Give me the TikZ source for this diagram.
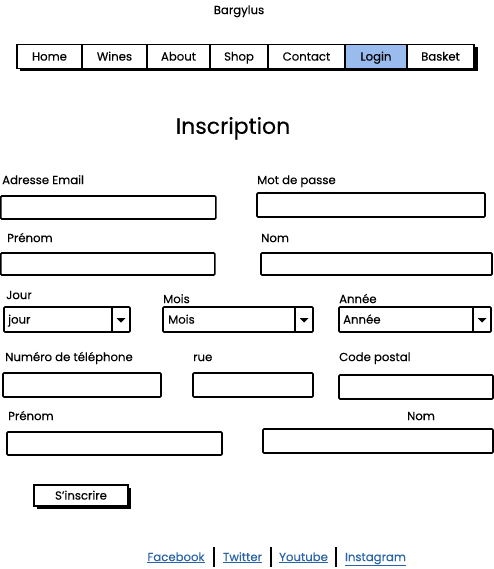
\documentclass[tikz,border=0pt]{standalone}
\usepackage{fontspec}
\setmainfont{Poppins}[FakeBold=0.3]
\usetikzlibrary{positioning,calc}
\definecolor{loginblue}{HTML}{99BBEE}
\definecolor{linkblue}{HTML}{2A64A8}
\tikzset{
	uitext/.style={font=\fontsize{11.7}{14}\selectfont, text height=8.6pt, text depth=0.4pt},
	navcell/.style={uitext, draw, line width=1.3pt, fill=white, minimum height=24, inner sep=0pt, outer sep=0pt},
	fieldlabel/.style={uitext, anchor=west, inner sep=0pt},
	fieldbox/.style={draw, line width=1.6pt, fill=white, rounded corners=1pt, anchor=north west, inner sep=0pt, outer sep=0pt},
	dropval/.style={uitext, anchor=west, inner sep=0pt},
	footlink/.style={uitext, inner sep=0pt, text=linkblue},
}
\begin{document}
\begin{tikzpicture}[
x=1pt,
y=-1pt,
]
	\useasboundingbox (0,0) rectangle (494,569);
	
	%%%%%%%%%%%%%%%%%%%%%%%%%%%%
	%Titel und Navigation
	%%%%%%%%%%%%%%%%%%%%%%%%%%%%
	
	\node [uitext, inner sep=0pt] (site) at (239, 10) {Bargylus};
	
	\fill [black] (20, 47.5) rectangle (477.5, 71.5);
	\node [navcell, minimum width=65, anchor=north west] (home) at (17, 44.5) {Home};
	\node [navcell, minimum width=65, right=0pt of home] (wines) {Wines};
	\node [navcell, minimum width=63, right=0pt of wines] (about) {About};
	\node [navcell, minimum width=58, right=0pt of about] (shop) {Shop};
	\node [navcell, minimum width=77, right=0pt of shop] (contact) {Contact};
	\node [navcell, minimum width=62, right=0pt of contact, fill=loginblue] (login) {Login};
	\node [navcell, minimum width=67, right=0pt of login] (basket) {Basket};
	
	\node [inner sep=0pt, font=\fontsize{22}{26}\selectfont, text height=15.6pt, text depth=0pt] (title) at (233, 126) {Inscription};
	
	%%%%%%%%%%%%%%%%%%%%%%%%%%%%
	%Formular
	%%%%%%%%%%%%%%%%%%%%%%%%%%%%
	
	\node [fieldlabel] (lemail) at (2, 180) {Adresse Email};
	\node [fieldbox, minimum width=215, minimum height=23] (email) at (0.8, 196) {};
	\node [fieldlabel] (lpass) at (257, 180) {Mot de passe};
	\node [fieldbox, minimum width=228, minimum height=24] (pass) at (257, 193) {};
	
	\node [fieldlabel] (lprenom) at (7, 238) {Prénom};
	\node [fieldbox, minimum width=214, minimum height=22] (prenom) at (0.8, 253) {};
	\node [fieldlabel] (lnom) at (261, 238) {Nom};
	\node [fieldbox, minimum width=231, minimum height=22] (nom) at (261, 253) {};
	
	\node [fieldlabel] (ljour) at (6, 295) {Jour};
	\node [fieldbox, minimum width=126, minimum height=25] (jour) at (4, 307) {};
	\node [dropval] at ($(jour.west)+(4,0)$) (vjour) {jour};
	\node [fieldlabel] (lmois) at (163, 299) {Mois};
	\node [fieldbox, minimum width=150, minimum height=25] (mois) at (163, 307) {};
	\node [dropval] at ($(mois.west)+(5,0)$) (vmois) {Mois};
	\node [fieldlabel] (lannee) at (339, 299) {Année};
	\node [fieldbox, minimum width=152, minimum height=25] (annee) at (339, 307) {};
	\node [dropval] at ($(annee.west)+(4,0)$) (vannee) {Année};
	
	% Pfeile der Auswahllisten
	\foreach \dd in {jour, mois, annee} {
		\draw [line width=1.2pt] ($(\dd.north east)+(-18,0)$) -- ($(\dd.south east)+(-18,0)$);
		\fill [black] ($(\dd.east)+(-13.5,-1.5)$) -- ($(\dd.east)+(-4.5,-1.5)$) -- ($(\dd.east)+(-9,3)$) -- cycle;
	}
	
	\node [fieldlabel] (ltel) at (5, 357) {Numéro de téléphone};
	\node [fieldbox, minimum width=158, minimum height=24] (tel) at (3, 373) {};
	\node [fieldlabel] (lrue) at (193, 357) {rue};
	\node [fieldbox, minimum width=120, minimum height=24] (rue) at (193, 373) {};
	\node [fieldlabel] (lcp) at (339, 357) {Code postal};
	\node [fieldbox, minimum width=154, minimum height=24] (cp) at (339, 375) {};
	
	\node [fieldlabel] (lprenomb) at (8, 416) {Prénom};
	\node [fieldbox, minimum width=215, minimum height=23] (prenomb) at (7, 432) {};
	\node [fieldlabel, anchor=center] (lnomb) at (421, 416) {Nom};
	\node [fieldbox, minimum width=230, minimum height=24] (nomb) at (263, 429) {};
	
	% Knopf mit Schatten
	\fill [black] (37, 488) rectangle (131, 508.5);
	\node [fieldbox, uitext, rounded corners=0pt, line width=1.3pt, minimum width=94, minimum height=21] (submit) at (34, 485) {S'inscrire};
	
	%%%%%%%%%%%%%%%%%%%%%%%%%%%%
	%Fusszeile
	%%%%%%%%%%%%%%%%%%%%%%%%%%%%
	
	\node [footlink] (fb) at (176, 557) {\underline{Facebook}};
	\node [footlink] (tw) at (242.5, 557) {\underline{Twitter}};
	\node [footlink] (yt) at (303.5, 557) {\underline{Youtube}};
	\node [footlink] (ig) at (375.5, 557) {\underline{Instagram}};
	
	\draw [line width=2pt] ($(fb.east)!0.5!(tw.west)+(0,-10)$) -- ($(fb.east)!0.5!(tw.west)+(0,10)$);
	\draw [line width=2pt] ($(tw.east)!0.5!(yt.west)+(0,-10)$) -- ($(tw.east)!0.5!(yt.west)+(0,10)$);
	\draw [line width=2pt] ($(yt.east)!0.5!(ig.west)+(0,-10)$) -- ($(yt.east)!0.5!(ig.west)+(0,10)$);
	
\end{tikzpicture}
\end{document}
